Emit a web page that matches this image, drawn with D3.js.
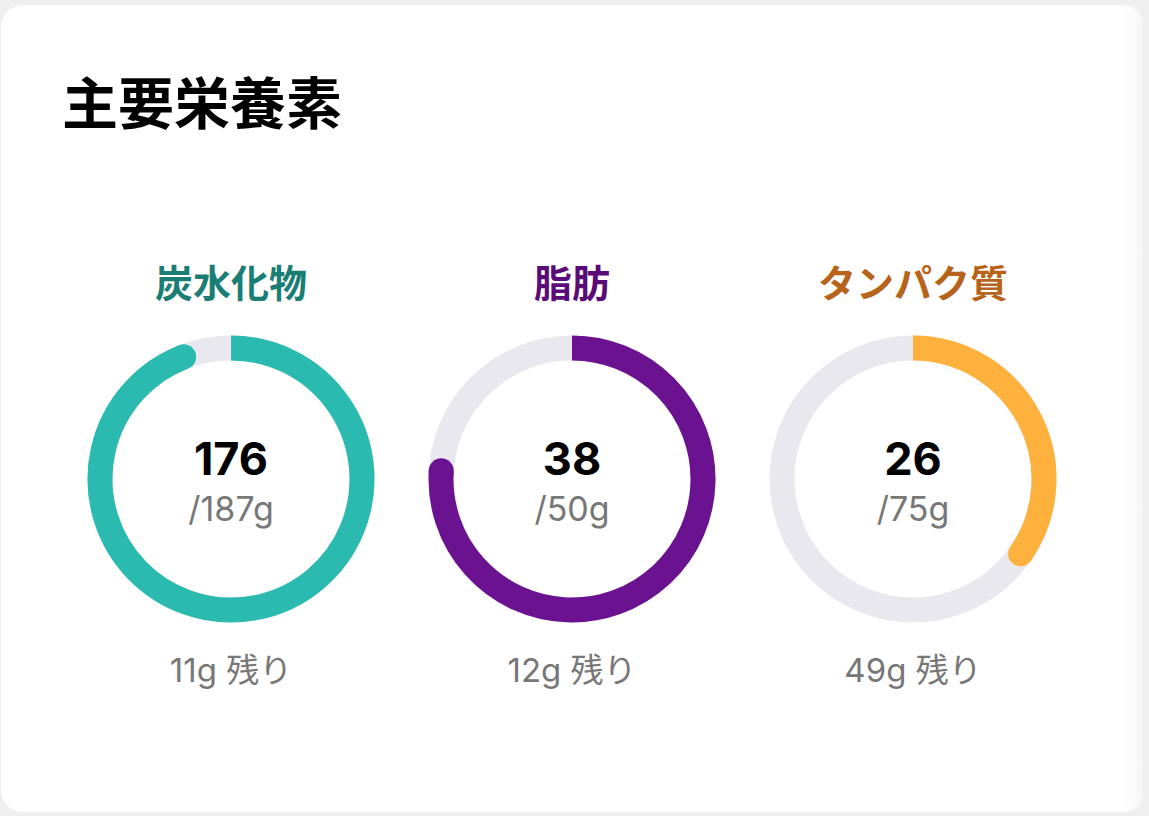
<!DOCTYPE html>
<html><head><meta charset="utf-8">
<script src="https://cdn.jsdelivr.net/npm/d3@7"></script>
<style>
html,body{margin:0;padding:0;background:#efefef;}
svg{display:block;}
</style></head>
<body>
<svg id="chart" width="1149" height="816"></svg>
<script>
const title = "主要栄養素";
const categories = ["炭水化物", "脂肪", "タンパク質"];
const consumed = [176, 38, 26];
const goals = [187, 50, 75];
const unit = "g";
const remainingSuffix = " 残り";
const ringColors = ["#2bbab0", "#6b1290", "#ffb13e"];
const labelColors = ["#1a7e75", "#5a0b78", "#b8631a"];

const W = 1149, H = 816;
const svg = d3.select("#chart");
const defs = svg.append("defs");
const grad = defs.append("linearGradient").attr("id","edge").attr("x1","0").attr("x2","1");
grad.append("stop").attr("offset","0").attr("stop-color","#ffffff").attr("stop-opacity",0);
grad.append("stop").attr("offset","1").attr("stop-color","#f5f5f5").attr("stop-opacity",1);

// card
svg.append("rect").attr("x",1).attr("y",5).attr("width",1142).attr("height",807)
  .attr("rx",22).attr("fill","#ffffff");
svg.append("rect").attr("x",1118).attr("y",5).attr("width",25).attr("height",807)
  .attr("rx",22).attr("fill","url(#edge)");

svg.append("text").attr("x",62).attr("y",124)
  .attr("font-family","'Noto Sans CJK JP', sans-serif").attr("font-weight",700)
  .attr("font-size",56).attr("fill","#000").text(title);

const x = d3.scalePoint().domain(categories).range([231, 913]);
const cy = 479;
const rOuter = 143.5, thick = 25;
const angle = d3.scaleLinear().domain([0,1]).range([0, 2*Math.PI]);
const track = d3.arc().innerRadius(rOuter-thick).outerRadius(rOuter).startAngle(0).endAngle(2*Math.PI);
const rMid = rOuter - thick/2;

const g = svg.selectAll("g.ring").data(categories).enter().append("g")
  .attr("transform", d => `translate(${x(d)},${cy})`);

g.append("path").attr("d", track()).attr("fill","#e9e8ee");

g.append("path").attr("d",(d,i)=>{
  const a = angle(consumed[i]/goals[i]);
  const p = d3.path();
  p.arc(0,0,rMid,-Math.PI/2,-Math.PI/2 + a,false);
  return p.toString();
}).attr("fill","none").attr("stroke",(d,i)=>ringColors[i]).attr("stroke-width",thick)
  .attr("stroke-linecap","butt");
// rounded end cap
g.append("circle").attr("r",thick/2)
  .attr("cx",(d,i)=> rMid*Math.sin(angle(consumed[i]/goals[i])))
  .attr("cy",(d,i)=> -rMid*Math.cos(angle(consumed[i]/goals[i])))
  .attr("fill",(d,i)=>ringColors[i]);

g.append("text").attr("y",297-cy).attr("text-anchor","middle")
  .attr("font-family","'Noto Sans CJK JP', sans-serif").attr("font-weight",700)
  .attr("font-size",38).attr("fill",(d,i)=>labelColors[i]).text(d=>d);

g.append("text").attr("y",475-cy).attr("text-anchor","middle")
  .attr("font-family","Inter, 'Noto Sans', sans-serif").attr("font-weight",700)
  .attr("font-size",45).attr("fill","#000").text((d,i)=>consumed[i]);

g.append("text").attr("y",521-cy).attr("text-anchor","middle")
  .attr("font-family","Inter, 'Noto Sans', sans-serif").attr("font-weight",400)
  .attr("font-size",34).attr("fill","#777").text((d,i)=>"/"+goals[i]+unit);

g.append("text").attr("y",682-cy).attr("text-anchor","middle")
  .attr("font-family","Inter, 'Noto Sans CJK JP', sans-serif").attr("font-weight",400)
  .attr("font-size",33).attr("fill","#777").text((d,i)=>(goals[i]-consumed[i])+unit+remainingSuffix);
</script>
</body></html>
